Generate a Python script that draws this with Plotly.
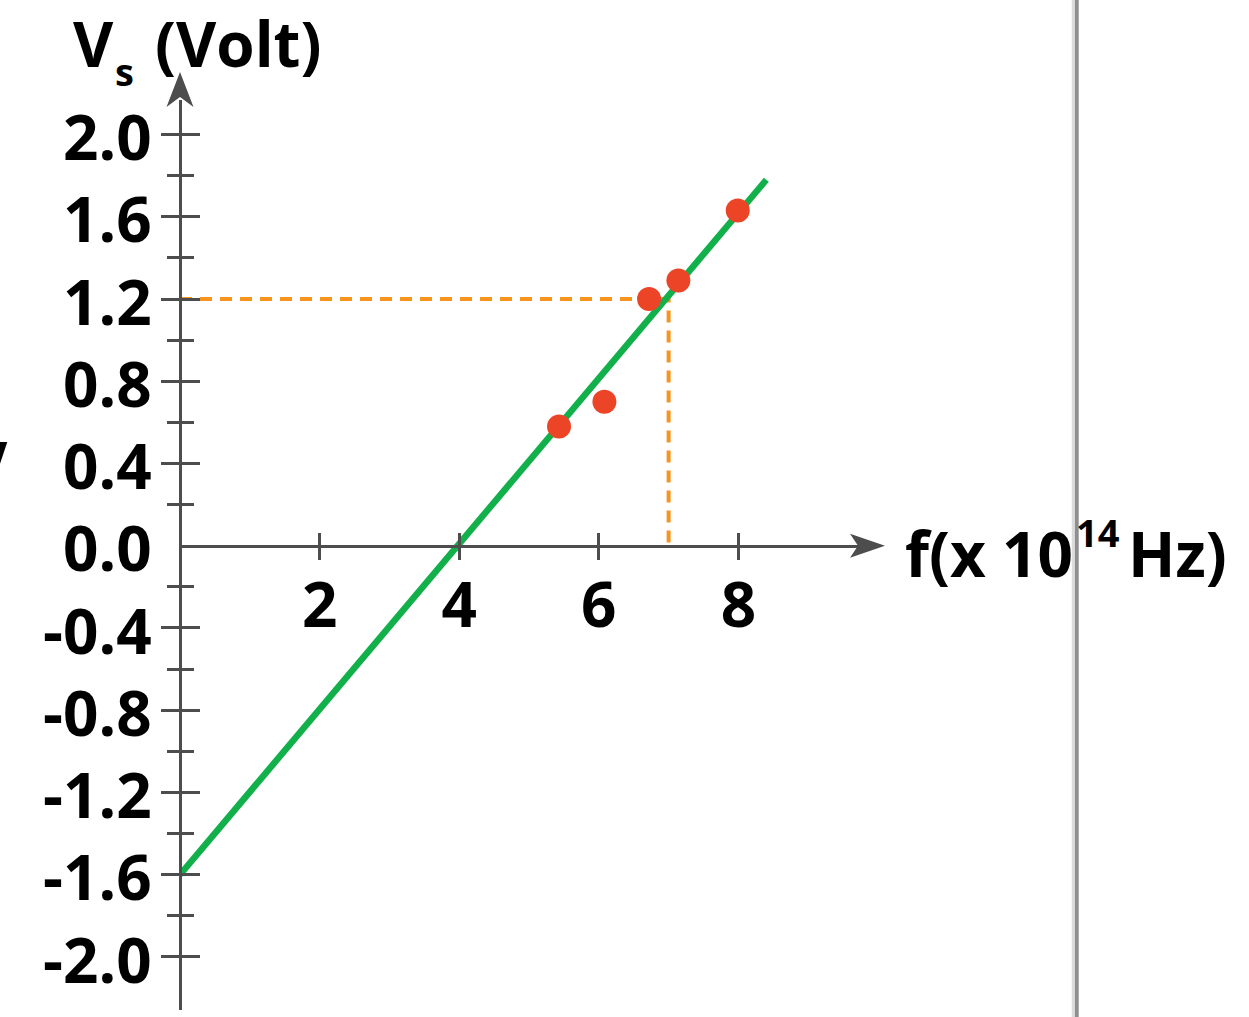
import plotly.graph_objects as go

# Measured stopping potential against light frequency
freq = [5.43, 6.08, 6.72, 7.14, 7.99]
stop_v = [0.58, 0.70, 1.20, 1.29, 1.63]

# Best-fit straight line (end points)
fit_f = [0.0, 8.4]
fit_v = [-1.6, 1.78]

# Reading guide drawn to the axes
guide_f = 7.0
guide_v = 1.2

x_tick_vals = [2, 4, 6, 8]
x_tick_text = ["2", "4", "6", "8"]
y_tick_vals = [2.0, 1.6, 1.2, 0.8, 0.4, 0.0, -0.4, -0.8, -1.2, -1.6, -2.0]
y_tick_text = ["2.0", "1.6", "1.2", "0.8", "0.4", "0.0", "-0.4", "-0.8", "-1.2", "-1.6", "-2.0"]
y_minor_vals = [1.8, 1.4, 1.0, 0.6, 0.2, -0.2, -0.6, -1.0, -1.4, -1.8]

W, H = 1249, 1017
L, R, T, B = 180, 379, 100, 7
PW = W - L - R
PH = H - T - B

X_RANGE = [0, 9.885]
Y_RANGE = [-2.258, 2.168]

AXIS = "#4d4d4d"
GREEN = "#12b04b"
RED = "#ec4426"
ORANGE = "#f7941d"
FONT = "Open Sans"


def px(xp):
    """pixel column -> paper x"""
    return (xp - L) / PW


def py(yp):
    """pixel row -> paper y"""
    return (H - B - yp) / PH


# paper position of the V = 0 line
x_axis_pos = (0 - Y_RANGE[0]) / (Y_RANGE[1] - Y_RANGE[0])

fig = go.Figure()

# dashed reading guide
fig.add_trace(go.Scatter(
    x=[0, guide_f, guide_f], y=[guide_v, guide_v, 0],
    mode="lines", line=dict(color=ORANGE, width=4, dash="12px,8px"),
    hoverinfo="skip", showlegend=False, cliponaxis=False,
))

# fitted line
fig.add_trace(go.Scatter(
    x=fit_f, y=fit_v, mode="lines",
    line=dict(color=GREEN, width=6.5),
    hoverinfo="skip", showlegend=False, cliponaxis=False,
))

# measured points
fig.add_trace(go.Scatter(
    x=freq, y=stop_v, mode="markers",
    marker=dict(color=RED, size=24, line=dict(width=0)),
    showlegend=False, cliponaxis=False,
))

# carrier traces for the tick-only overlay axes
fig.add_trace(go.Scatter(x=[None], y=[None], xaxis="x2", yaxis="y2",
                         showlegend=False, hoverinfo="skip"))
fig.add_trace(go.Scatter(x=[None], y=[None], xaxis="x3", yaxis="y3",
                         showlegend=False, hoverinfo="skip"))

tick_font = dict(family=FONT, size=62, color="black", weight="bold")
y_marks = [v for v in y_tick_vals if v != 0]

x_tick_axis = dict(
    range=X_RANGE, overlaying="x", anchor="free", position=x_axis_pos,
    showline=False, ticks="outside", ticklen=13, tickwidth=3, tickcolor=AXIS,
    tickmode="array", tickvals=x_tick_vals, showticklabels=False,
    showgrid=False, zeroline=False, fixedrange=True,
)
y_tick_axis = dict(
    range=Y_RANGE, overlaying="y", anchor="free", position=0,
    showline=False, ticks="outside", ticklen=19, tickwidth=3, tickcolor=AXIS,
    tickmode="array", tickvals=y_marks, showticklabels=False,
    minor=dict(ticks="outside", ticklen=13, tickwidth=3, tickcolor=AXIS,
               tickvals=y_minor_vals, showgrid=False),
    showgrid=False, zeroline=False, fixedrange=True,
)

fig.update_layout(
    width=W, height=H,
    margin=dict(l=L, r=R, t=T, b=B, pad=0),
    paper_bgcolor="white", plot_bgcolor="white",
    showlegend=False,
    # axis lines and tick labels
    xaxis=dict(
        range=X_RANGE, domain=[0, 1], anchor="free", position=x_axis_pos,
        side="bottom", showline=True, linecolor=AXIS, linewidth=3,
        ticks="", tickmode="array", tickvals=x_tick_vals, ticktext=x_tick_text,
        tickfont=tick_font, ticklabelstandoff=5,
        showgrid=False, zeroline=False, fixedrange=True,
    ),
    yaxis=dict(
        range=Y_RANGE, domain=[0, 1], anchor="free", position=0,
        side="left", showline=True, linecolor=AXIS, linewidth=3,
        ticks="", tickmode="array", tickvals=y_tick_vals, ticktext=y_tick_text,
        tickfont=tick_font, ticklabelstandoff=15, ticklabelshift=4,
        showgrid=False, zeroline=False, fixedrange=True,
    ),
    # tick marks crossing each axis
    xaxis2=dict(x_tick_axis, side="top"),
    xaxis3=dict(x_tick_axis, side="bottom"),
    yaxis2=dict(y_tick_axis, side="left"),
    yaxis3=dict(y_tick_axis, side="right"),
)

# arrow heads at the ends of both axes
fig.add_shape(type="path", xref="paper", yref="paper",
              xsizemode="pixel", ysizemode="pixel", xanchor=0, yanchor=1,
              path="M 0 28 L -13.5 -7 L 0 3 L 13.5 -7 Z",
              fillcolor=AXIS, line=dict(width=0), layer="above")
fig.add_shape(type="path", xref="paper", yref="y",
              xsizemode="pixel", ysizemode="pixel", xanchor=1, yanchor=0,
              path="M 15 0 L -20 12 L -12 0 L -20 -12 Z",
              fillcolor=AXIS, line=dict(width=0), layer="above")

# page divider on the right
fig.add_shape(type="line", xref="paper", yref="paper",
              x0=px(1073), x1=px(1073), y0=py(H + 5), y1=py(-5),
              line=dict(color="#dcdcdc", width=2.5))
fig.add_shape(type="line", xref="paper", yref="paper",
              x0=px(1076.7), x1=px(1076.7), y0=py(H + 5), y1=py(-5),
              line=dict(color="#8f8f8f", width=4))

big = dict(family=FONT, size=62, color="black", weight="bold")


def label(text, xp, yp, font, xanchor="left", yanchor="middle"):
    fig.add_annotation(text=text, x=px(xp), y=py(yp), xref="paper", yref="paper",
                       xanchor=xanchor, yanchor=yanchor, showarrow=False,
                       font=font, borderpad=0)


# y-axis title: V_s (Volt)
label("V", 72, 0, big, yanchor="top")
label("s", 114, 71, dict(family=FONT, size=38, color="black", weight="bold"))
label("(Volt)", 154, 0, big, yanchor="top")

# x-axis title: f(x 10^14 Hz)
label("f(x 10", 904, 553, big)
label("14", 1075, 532, dict(family=FONT, size=38, color="black", weight="bold"))
label("Hz)", 1127, 553, big)

# cut-off letter at the left page edge
label("V", 9, 463, big, xanchor="right")

fig.write_html("out.html")
